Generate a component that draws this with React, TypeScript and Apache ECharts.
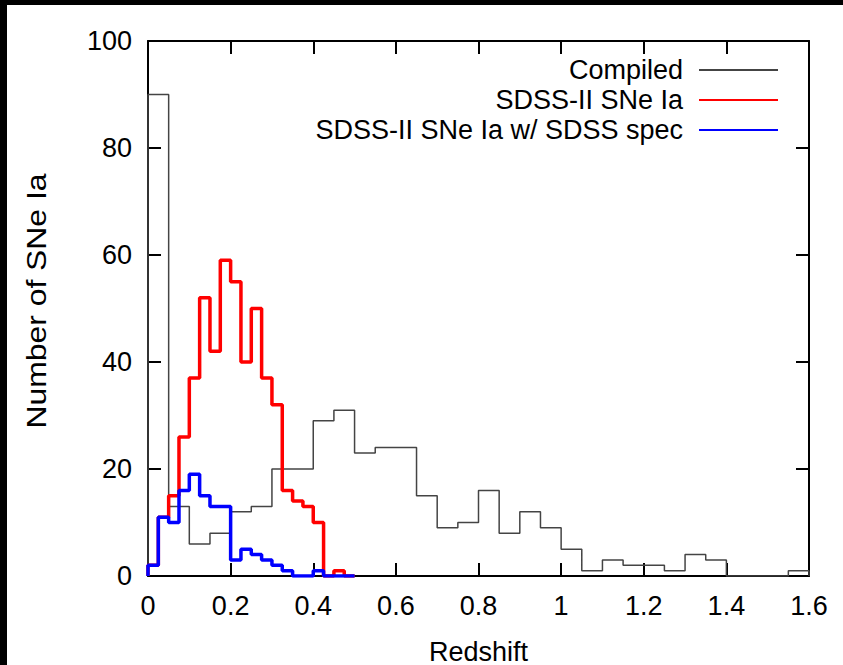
import React, { useEffect, useRef } from 'react';
import * as echarts from 'echarts';

// Histogram data (counts per bin)
const compiledBinWidth = 0.05;
const compiledCounts = [90, 13, 6, 8, 12, 13, 20, 20, 29, 31, 23, 24, 24, 15, 9, 10, 16, 8, 12, 9, 5, 1, 3, 2, 2, 1, 4, 3, 0, 0, 0, 1];

const sdssBinWidth = 0.025;
const sdssCounts = [2, 11, 15, 26, 37, 52, 42, 59, 55, 40, 50, 37, 32, 16, 14, 13, 10, 0, 1, 0];
const sdssSpecCounts = [2, 11, 10, 16, 19, 15, 13, 13, 3, 5, 4, 3, 2, 1, 0, 0, 1, 0, 0, 0];

const seriesNames = ['Compiled', 'SDSS-II SNe Ia', 'SDSS-II SNe Ia w/ SDSS spec'];
const xTickLabels = ['0', '0.2', '0.4', '0.6', '0.8', '1', '1.2', '1.4', '1.6'];
const yTickLabels = ['0', '20', '40', '60', '80', '100'];
const xAxisTitle = 'Redshift';
const yAxisTitle = 'Number of SNe Ia';

function histSteps(counts: number[], width: number): number[][] {
  const pts: number[][] = [[0, 0]];
  counts.forEach((c, i) => pts.push([+(i * width).toFixed(4), c]));
  pts.push([+(counts.length * width).toFixed(4), 0]);
  return pts;
}

const FONT = "'Liberation Sans', Arial, Helvetica, sans-serif";

export default function App() {
  const ref = useRef<HTMLDivElement>(null);

  useEffect(() => {
    if (!ref.current) return;
    const chart = echarts.init(ref.current, null, { renderer: 'svg' });

    const tick = { show: true, inside: true, length: 13, lineStyle: { color: '#000', width: 2 } };
    const line = { show: true, onZero: false, lineStyle: { color: '#000', width: 2 } };

    const xBase = { type: 'value', min: 0, max: 1.6, interval: 0.2, splitLine: { show: false }, axisLine: line, axisTick: tick };
    const yBase = { type: 'value', min: 0, max: 100, interval: 20, splitLine: { show: false }, axisLine: line, axisTick: tick };

    chart.setOption({
      animation: false,
      backgroundColor: '#fff',
      grid: { left: 148, right: 34, top: 41, bottom: 89, containLabel: false, outerBoundsMode: 'none' },
      xAxis: [
        {
          ...xBase,
          position: 'bottom',
          axisLabel: {
            color: '#000', fontSize: 27, fontFamily: FONT, margin: 16,
            formatter: (v: number) => xTickLabels[Math.round(v / 0.2)],
          },
          name: xAxisTitle,
          nameLocation: 'middle',
          nameGap: 62,
          nameTextStyle: { color: '#000', fontSize: 27, fontFamily: FONT },
        },
        { ...xBase, position: 'top', axisLabel: { show: false } },
      ],
      yAxis: [
        {
          ...yBase,
          position: 'left',
          axisLabel: {
            color: '#000', fontSize: 27, fontFamily: FONT, margin: 16,
            formatter: (v: number) => yTickLabels[Math.round(v / 20)],
          },
        },
        { ...yBase, position: 'right', axisLabel: { show: false } },
      ],
      legend: {
        orient: 'vertical',
        align: 'right',
        right: 64,
        top: 56,
        padding: 0,
        itemWidth: 79,
        itemHeight: 14,
        itemGap: 2,
        itemStyle: { color: 'rgba(0,0,0,0)', borderWidth: 0, opacity: 0 },
        textStyle: { color: '#000', fontSize: 27, fontFamily: FONT, lineHeight: 28, padding: [0, 11, 0, 0] },
        data: seriesNames,
      },
      graphic: [
        { type: 'rect', shape: { x: 0, y: 0, width: 843, height: 5 }, style: { fill: '#000' }, z: 100 },
        { type: 'rect', shape: { x: 0, y: 0, width: 7, height: 665 }, style: { fill: '#000' }, z: 100 },
        {
          type: 'text', x: 36, y: 301, rotation: Math.PI / 2, scaleX: 1.18,
          style: { text: yAxisTitle, fill: '#000', font: `27px ${FONT}`, align: 'center', verticalAlign: 'middle' },
        },
      ],
      series: [
        {
          name: seriesNames[0], type: 'line', step: 'end', symbol: 'none',
          data: histSteps(compiledCounts, compiledBinWidth),
          lineStyle: { color: '#444', width: 1.5 }, itemStyle: { color: '#444' }, z: 2,
        },
        {
          name: seriesNames[1], type: 'line', step: 'end', symbol: 'none',
          data: histSteps(sdssCounts, sdssBinWidth),
          lineStyle: { color: '#ff0000', width: 3.5 }, itemStyle: { color: '#ff0000' }, z: 3,
        },
        {
          name: seriesNames[2], type: 'line', step: 'end', symbol: 'none',
          data: histSteps(sdssSpecCounts, sdssBinWidth),
          lineStyle: { color: '#0000ff', width: 3.5 }, itemStyle: { color: '#0000ff' }, z: 4,
        },
      ],
    });

    return () => chart.dispose();
  }, []);

  return <div ref={ref} style={{ position: 'fixed', left: 0, top: 0, width: 843, height: 665 }} />;
}
